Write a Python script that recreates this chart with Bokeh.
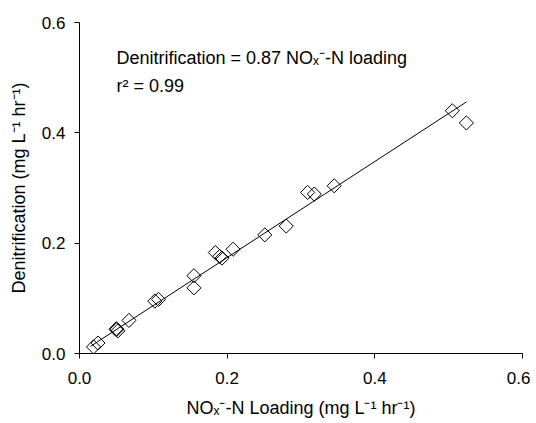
import math
from bokeh.plotting import figure
from bokeh.models import FixedTicker, Label, ColumnDataSource, NumeralTickFormatter
from bokeh.embed import file_html
from bokeh.resources import INLINE

# NOx-N loading (mg L-1 hr-1) and denitrification (mg L-1 hr-1)
loading = [0.019, 0.025, 0.050, 0.052, 0.050, 0.067, 0.102, 0.107, 0.155, 0.155,
           0.184, 0.190, 0.193, 0.208, 0.251, 0.280, 0.309, 0.318, 0.345, 0.505, 0.524]
denit = [0.012, 0.019, 0.045, 0.041, 0.043, 0.060, 0.095, 0.098, 0.141, 0.119,
         0.183, 0.176, 0.173, 0.189, 0.215, 0.231, 0.292, 0.289, 0.304, 0.440, 0.418]

# regression line endpoints (Denitrification = 0.87 x loading)
fit_x = [0.015, 0.524]
fit_y = [0.013, 0.456]

x_ticks = [0.0, 0.2, 0.4, 0.6]
y_ticks = [0.0, 0.2, 0.4, 0.6]

eq_text = "Denitrification = 0.87 NO\u2093\u207b-N loading"
r2_text = "r\u00b2 = 0.99"
x_label = "NO\u2093\u207b-N Loading (mg L\u207b\u00b9 hr\u207b\u00b9)"
y_label = "Denitrification (mg L\u207b\u00b9 hr\u207b\u00b9)"

FONT = "Liberation Sans"

p = figure(width=530, height=420, output_backend="svg", toolbar_location=None,
           x_range=(0, 0.6), y_range=(0, 0.6),
           min_border_left=79, min_border_right=8, min_border_top=22, min_border_bottom=67)

p.outline_line_color = None
p.grid.grid_line_color = None
p.background_fill_color = "white"
p.border_fill_color = "white"

src = ColumnDataSource(dict(x=loading, y=denit))
p.line(fit_x, fit_y, line_color="black", line_width=1)
p.scatter("x", "y", source=src, marker="square", size=10, angle=math.pi / 4,
          fill_color=None, line_color="black", line_width=1)

for ax, ticks in ((p.xaxis[0], x_ticks), (p.yaxis[0], y_ticks)):
    ax.ticker = FixedTicker(ticks=ticks)
    ax.formatter = NumeralTickFormatter(format="0.0")
    ax.minor_tick_line_color = None
    ax.major_tick_in = 0
    ax.major_tick_out = 5
    ax.axis_line_color = "black"
    ax.major_tick_line_color = "black"
    ax.major_label_text_font = FONT
    ax.major_label_text_font_size = "17px"
    ax.major_label_text_color = "black"
    ax.axis_label_text_font = FONT
    ax.axis_label_text_font_size = "18px"
    ax.axis_label_text_font_style = "normal"
    ax.axis_label_text_color = "black"

p.xaxis.axis_label = x_label
p.yaxis.axis_label = y_label
p.xaxis.major_label_standoff = 13
p.xaxis.axis_label_standoff = 11
p.yaxis.major_label_standoff = 9
p.yaxis.axis_label_standoff = 10

p.add_layout(Label(x=0.050, y=0.536, text=eq_text, text_font=FONT,
                   text_font_size="18px", text_color="black", text_baseline="alphabetic"))
p.add_layout(Label(x=0.050, y=0.4845, text=r2_text, text_font=FONT,
                   text_font_size="18px", text_color="black", text_baseline="alphabetic"))

open("out.html", "w").write(file_html(p, INLINE))
